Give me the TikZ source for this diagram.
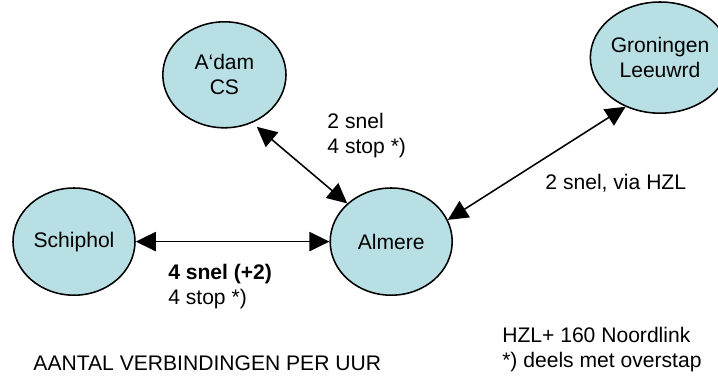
\documentclass[tikz,border=0pt]{standalone}
\usepackage{fontspec}
\setmainfont{Liberation Sans}
\usetikzlibrary{shapes.geometric, arrows.meta}

\definecolor{stationfill}{RGB}{184,223,228}

\begin{document}
\begin{tikzpicture}[
    font=\fontsize{15}{17.8}\selectfont,
    station/.style={ellipse, draw=black, line width=1.1pt, fill=stationfill, inner sep=0pt, align=center},
    link/.style={line width=1.1pt, {Triangle[length=0.5cm,width=0.48cm]}-{Triangle[length=0.5cm,width=0.48cm]}},
    info/.style={anchor=west, align=left, inner sep=0pt}
]
\useasboundingbox (0,0) rectangle (17.95,9.4);

% Stations
\node[station, minimum width=3.05cm, minimum height=2.68cm] (schiphol) at (1.85,3.36) {Schiphol};
\node[station, minimum width=3.05cm, minimum height=2.68cm] (almere) at (9.78,3.36) {Almere};
\node[station, minimum width=3.08cm, minimum height=2.65cm] (adam) at (5.61,7.53) {A‘dam\\CS};
\node[station, minimum width=2.9cm, minimum height=2.78cm] (groningen) at (16.5,7.96) {Groningen\\Leeuwrd};

% Connections
\draw[link] (schiphol) -- (almere);
\draw[link, shorten <=0.15cm] (adam.-60) -- (almere.139);
\draw[link] (groningen.235) -- (almere.21);

% Frequencies
\node[info] (freq_adam) at (8.18,6.0) {2 snel\\4 stop *)};
\node[info] (freq_gron) at (13.63,4.83) {2 snel, via HZL};
\node[info] (freq_schiphol) at (4.2,2.24) {\textbf{4 snel (+2)}\\4 stop *)};

% Notes
\node[info] (title) at (0.83,0.33) {AANTAL VERBINDINGEN PER UUR};
\node[info] (notes) at (12.55,0.65) {HZL+ 160 Noordlink\\*) deels met overstap};

\end{tikzpicture}
\end{document}
